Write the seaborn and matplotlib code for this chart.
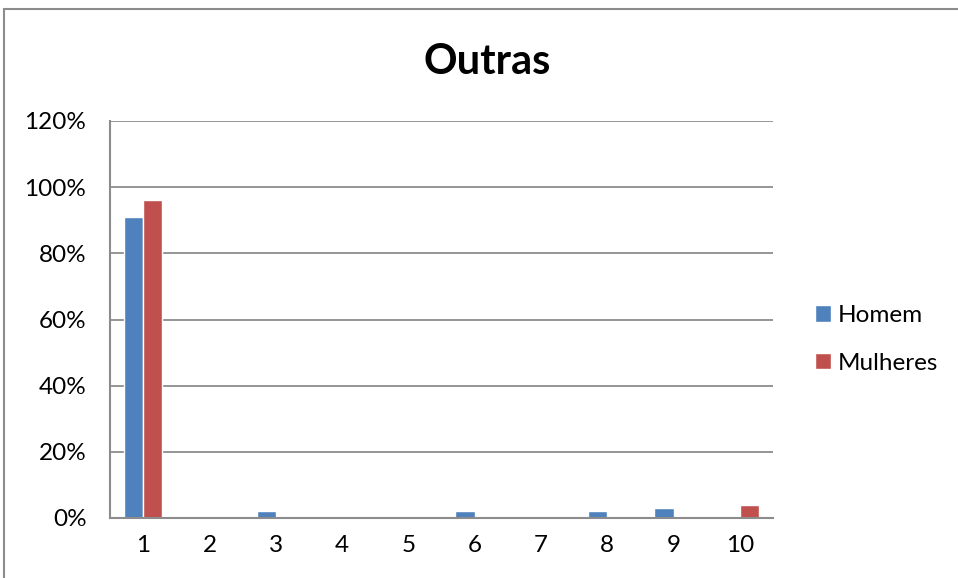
import seaborn as sns
import matplotlib.pyplot as plt
import matplotlib.patches as mpatches
import pandas as pd

categories = ['1', '2', '3', '4', '5', '6', '7', '8', '9', '10']
homem = [0.91, 0, 0.02, 0, 0, 0.02, 0, 0.02, 0.03, 0]
mulheres = [0.96, 0, 0, 0, 0, 0, 0, 0, 0, 0.04]
yticks = [0, 0.2, 0.4, 0.6, 0.8, 1.0, 1.2]
ytick_labels = ['0%', '20%', '40%', '60%', '80%', '100%', '120%']

df = pd.DataFrame({'Cat': categories, 'Homem': homem, 'Mulheres': mulheres})
df_melted = df.melt(id_vars='Cat', var_name='Serie', value_name='Valor')

sns.set_style('white')
plt.rcParams['font.family'] = ['Lato', 'DejaVu Sans']
plt.rcParams['text.color'] = 'black'

fig = plt.figure(figsize=(9.58, 5.78), dpi=100)
ax = fig.add_axes([110 / 958, 1 - 518 / 578, 663 / 958, 397 / 578])

sns.barplot(data=df_melted, x='Cat', y='Valor', hue='Serie',
            palette=['#4F81BD', '#C0504D'], width=0.58, gap=0,
            order=categories, ax=ax, saturation=1)

ax.set_ylim(0, 1.2)
ax.set_xlim(-0.5, 9.5)
ax.set_yticks(yticks)
ax.set_yticklabels(ytick_labels)
ax.yaxis.grid(True, color='#8c8c8c', linewidth=1.3)
ax.set_axisbelow(True)
ax.set_xlabel('')
ax.set_ylabel('')
ax.tick_params(axis='both', length=0, labelsize=17.5, colors='black')
ax.tick_params(axis='y', pad=17)
ax.tick_params(axis='x', pad=12)
for s in ['top', 'right']:
    ax.spines[s].set_visible(False)
for s in ['left', 'bottom']:
    ax.spines[s].set_color('#8c8c8c')
    ax.spines[s].set_linewidth(1.5)

fig.text(487 / 958, 1 - 62 / 578, 'Outras', ha='center', va='center',
         fontsize=30, fontweight='bold', color='black')

handles, labels = ax.get_legend_handles_labels()
leg = ax.legend(handles, labels, loc='center left', bbox_to_anchor=(1.03, 0.45),
                frameon=False, fontsize=17.5, handlelength=0.65, handleheight=0.65,
                handletextpad=0.3, labelspacing=1.1)
for t in leg.get_texts():
    t.set_color('black')

# outer chart border (clipped at right/bottom like the reference)
fig.patches.append(mpatches.Rectangle((4 / 958, -0.1), 1.1, 1.1 - 9 / 578,
                                      transform=fig.transFigure, fill=False,
                                      edgecolor='#8c8c8c', linewidth=1.5))

fig.savefig('out.png', dpi=100)
